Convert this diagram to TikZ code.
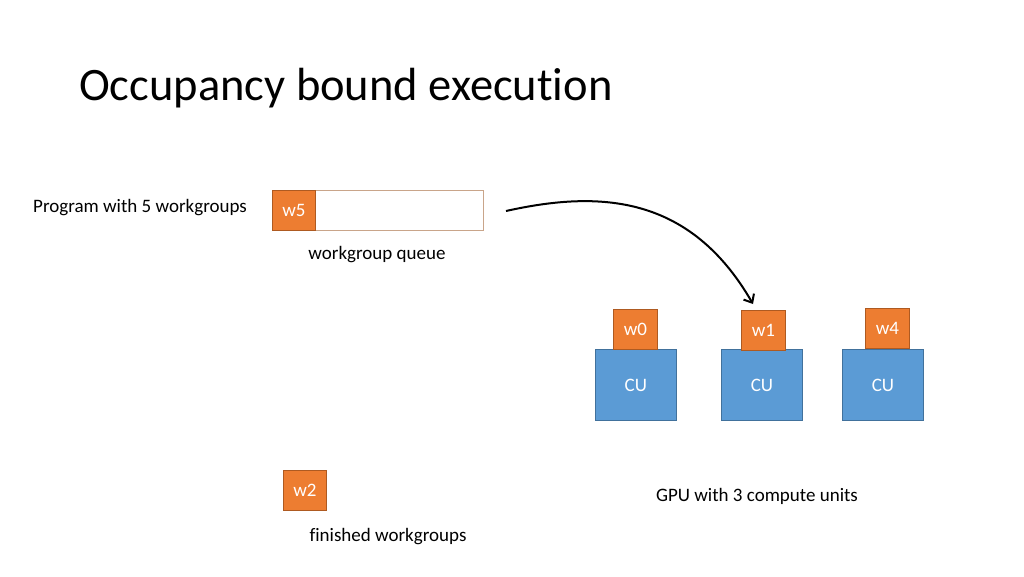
\documentclass[tikz,border=0pt]{standalone}
\usepackage{fontspec}
\setmainfont[Ligatures=NoCommon]{Carlito}
\usetikzlibrary{arrows.meta}
\definecolor{orangefill}{HTML}{ED7D31}
\definecolor{orangeline}{HTML}{AE5A21}
\definecolor{bluefill}{HTML}{5B9BD5}
\definecolor{blueline}{HTML}{41719C}
\definecolor{queueline}{HTML}{C9A58A}
\begin{document}
\begin{tikzpicture}[x=1pt,y=-1pt,
  wg/.style={draw=orangeline,fill=orangefill,text=white,line width=0.8pt,
    minimum width=43pt,minimum height=40pt,inner sep=0pt,font=\fontsize{19}{22}\selectfont},
  cu/.style={draw=blueline,fill=bluefill,text=white,line width=0.8pt,
    minimum width=81pt,minimum height=71pt,inner sep=0pt,font=\fontsize{19}{22}\selectfont},
  lbl/.style={inner sep=0pt,font=\fontsize{19}{22}\selectfont}]
\useasboundingbox (0,0) rectangle (1024,576);
\node[anchor=west,inner sep=0pt,font=\fontsize{46.5}{52}\selectfont] (title) at (79,88) {Occupancy bound execution};
\node[lbl,anchor=west] (prog) at (33,208) {Program with 5 workgroups};
\node[draw=queueline,line width=0.8pt,minimum width=211pt,minimum height=40pt,inner sep=0pt,anchor=north west] (queue) at (272,190) {};
\node[wg,anchor=north west] (w5) at (272,190) {w5};
\node[lbl] (qlbl) at (377,255) {workgroup queue};
\node[cu,anchor=north west] (cu1) at (595,349) {CU};
\node[cu,anchor=north west] (cu2) at (721,349) {CU};
\node[cu,anchor=north west] (cu3) at (842,349) {CU};
\node[wg,anchor=north west,minimum width=44pt] (w0) at (613,309) {w0};
\node[wg,anchor=north west,minimum width=44pt] (w1) at (741,310) {w1};
\node[wg,anchor=north west,minimum width=44pt] (w4) at (865,308) {w4};
\node[wg,anchor=north west] (w2) at (283,470) {w2};
\node[lbl] (gpu) at (757,496) {GPU with 3 compute units};
\node[lbl] (fin) at (388,537) {finished workgroups};
\coordinate (start) at (506,211);
\coordinate (tip) at (753,304);
\draw[line width=2pt,-{Straight Barb[length=7pt,width=12pt]}] (start) .. controls (600,190) and (690,195) .. (tip);
\end{tikzpicture}
\end{document}
